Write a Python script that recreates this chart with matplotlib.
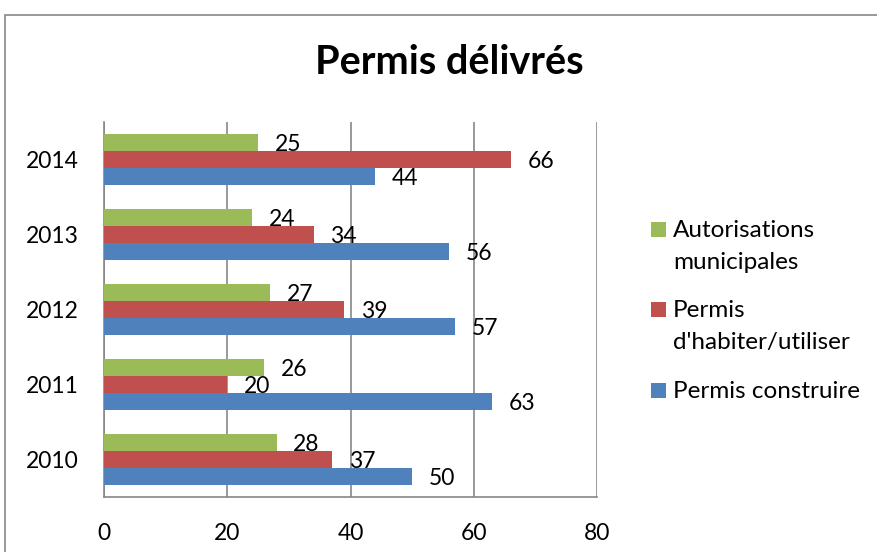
import matplotlib
matplotlib.use("Agg")
import matplotlib.pyplot as plt
from matplotlib.patches import Rectangle
import numpy as np

# Data
years = ["2010", "2011", "2012", "2013", "2014"]
permis_construire = [50, 63, 57, 56, 44]
permis_habiter = [37, 20, 39, 34, 66]
autorisations = [28, 26, 27, 24, 25]

series_names = ["Permis construire", "Permis d'habiter/utiliser", "Autorisations municipales"]
legend_lines = [["Autorisations", "municipales"], ["Permis", "d'habiter/utiliser"], ["Permis construire"]]
colors = ["#4F81BD", "#C0504D", "#9BBB59"]
x_ticks = [0, 20, 40, 60, 80]

plt.rcParams["font.family"] = ["Lato", "DejaVu Sans"]

W, H = 877, 552
fig = plt.figure(figsize=(W / 100, H / 100), dpi=100)
fig.patch.set_facecolor("white")

def fx(px):
    return px / W

def fy(py):
    return 1 - py / H

# Chart-area frame
fig.patches.append(Rectangle((fx(5), fy(600)), fx(900), (600 - 15) / H,
                             transform=fig.transFigure, fill=False,
                             edgecolor="#878787", linewidth=1.2))

ax = fig.add_axes([fx(104), fy(497), fx(597) - fx(104), (497 - 122) / H])

y = np.arange(len(years))
h = 0.227
values = [permis_construire, permis_habiter, autorisations]
offsets = [-h, 0, h]
for vals, off, col, name in zip(values, offsets, colors, series_names):
    bars = ax.barh(y + off, vals, height=h, color=col, label=name, zorder=3)
    for b, v in zip(bars, vals):
        ax.annotate(str(v), xy=(b.get_width(), b.get_y() + b.get_height() / 2),
                    xytext=(12, -1.5), textcoords="offset points",
                    ha="left", va="center", fontsize=16.5, color="black", zorder=4)

ax.set_xlim(0, 80)
ax.set_ylim(-0.5, len(years) - 0.5)
ax.set_xticks(x_ticks)
ax.set_xticklabels([str(t) for t in x_ticks])
ax.set_yticks(y)
ax.set_yticklabels(years)
ax.tick_params(axis="both", length=0, labelsize=16.5, colors="black")
ax.tick_params(axis="x", pad=19)
ax.tick_params(axis="y", pad=18)
ax.xaxis.grid(True, color="#878787", linewidth=1.2, zorder=0)
ax.set_axisbelow(True)
for s in ["top", "right"]:
    ax.spines[s].set_visible(False)
for s in ["left", "bottom"]:
    ax.spines[s].set_color("#878787")
    ax.spines[s].set_linewidth(1.2)

# Title
fig.text(fx(449.5), fy(63), "Permis délivrés", ha="center", va="center",
         fontsize=28.5, fontweight="bold", color="black")

# Legend (top to bottom: green, red, blue)
legend_colors = [colors[2], colors[1], colors[0]]
square_tops = [222, 302, 383]
for lines, col, top in zip(legend_lines, legend_colors, square_tops):
    fig.patches.append(Rectangle((fx(651), fy(top + 15)), fx(15), 15 / H,
                                 transform=fig.transFigure, facecolor=col,
                                 edgecolor="none"))
    for i, line in enumerate(lines):
        fig.text(fx(673), fy(top + 15 + 32 * i), line, ha="left", va="baseline",
                 fontsize=17.5, color="black")

fig.savefig("out.png", dpi=100)
